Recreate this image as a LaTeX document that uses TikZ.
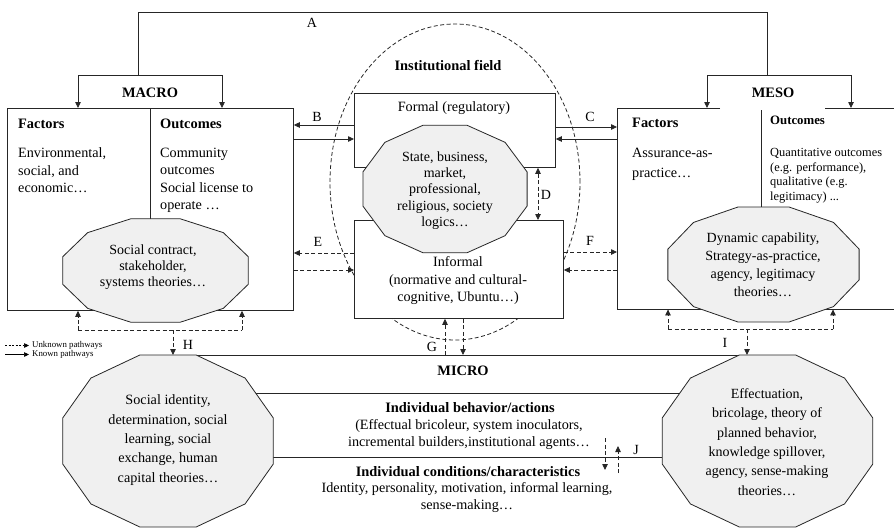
\documentclass[tikz,border=0pt]{standalone}
\usepackage{fontspec}
\setmainfont{Liberation Serif}
\usetikzlibrary{arrows.meta,calc,shapes.geometric}
\tikzset{
 ln/.style={draw=black!85, line width=0.8pt},
 box/.style={ln, fill=white, inner sep=0pt, anchor=north west},
 theory/.style={ln, fill=black!6},
 tip/.style={-{Triangle[length=6pt,width=5.5pt]}},
 arr/.style={ln, tip},
 dln/.style={ln, dash pattern=on 4pt off 2.5pt},
 darr/.style={dln, tip},
 txt/.style={inner sep=0pt, font=\fontsize{14.2}{17.5}\selectfont},
 btxt/.style={inner sep=0pt, font=\fontsize{14.4}{16}\selectfont\bfseries},
 lab/.style={inner sep=0pt, font=\fontsize{14}{15}\selectfont},
 legtxt/.style={inner sep=0pt, anchor=west, font=\fontsize{8.8}{9}\selectfont},
}
\newcommand\dodeca[4]{\draw[theory] plot[samples at={15,45,...,345}] ({#1+#3*cos(\x)},{#2+#4*sin(\x)}) -- cycle;}
\begin{document}
\begin{tikzpicture}[x=1pt,y=-1pt]
\useasboundingbox (0,0) rectangle (894,528);

% institutional field
\node[dln, ellipse, minimum width=250pt, minimum height=316pt, inner sep=0pt] (field) at (455,182) {};
\node[btxt] (fieldlab) at (448,66) {Institutional field};

% boxes
\node[box, minimum width=286pt, minimum height=202pt] (macro) at (7,108) {};
\node[box, minimum width=201pt, minimum height=74pt] (formal) at (354,93) {};
\node[box, minimum width=209pt, minimum height=98pt] (informal) at (354,220) {};
\node[inner sep=0pt, minimum width=277pt, minimum height=201pt, anchor=north west] (meso) at (617,108) {};
\draw[ln] ($(meso.north west)+(103,0)$) -- (meso.north west) -- (meso.south west) -- (meso.south east);
\draw[ln] ($(meso.north west)+(208,0)$) -- (meso.north east);
\draw[ln] ($(macro.north west)+(143,0)$) -- ++(0,111);
\draw[ln] ($(meso.north west)+(144,2)$) -- ++(0,98);

% top connector A and brackets
\coordinate (ma) at (138,75);
\coordinate (me) at (767,75);
\draw[ln] (ma) -- (138,12) -- (767,12) -- (me);
\node[lab] (labA) at (312,23) {A};
\draw[arr] (ma) -- (78,75) -- ($(macro.north west)+(71,0)$);
\draw[arr] (ma) -- (222,75) -- ($(macro.north west)+(215,0)$);
\draw[arr] (me) -- (707,75) -- ($(meso.north west)+(90,0)$);
\draw[arr] (me) -- (851,75) -- ($(meso.north west)+(234,0)$);
\node[btxt] (macrolab) at (150,93) {MACRO};
\node[btxt] (mesolab) at (773,93) {MESO};

% macro texts
\node[btxt, anchor=west] (mf) at (18,124) {Factors};
\node[btxt, anchor=west] (mo) at (160,124) {Outcomes};
\node[txt, align=left, anchor=north west] (mft) at (18,147.5) {Environmental,\\social, and\\economic…};
\node[txt, align=left, anchor=north west] (mot) at (160,147.5) {Community\\outcomes\\Social license to\\operate …};

% meso texts
\node[btxt, anchor=west] (sf) at (632,123) {Factors};
\node[inner sep=0pt, font=\fontsize{12.8}{14}\selectfont\bfseries, anchor=west] (so) at (770,120) {Outcomes};
\node[txt, align=left, anchor=north west, font=\fontsize{14.2}{20}\selectfont] (sft) at (632,147.5) {Assurance-as-\\practice…};
\node[inner sep=0pt, align=left, anchor=north west, font=\fontsize{12.4}{14.7}\selectfont] (sot) at (770,148) {Quantitative outcomes\\(e.g. performance),\\qualitative (e.g.\\legitimacy) ...};

% formal / informal texts
\node[txt] (formallab) at (454,108) {Formal (regulatory)};
\node[txt, align=center] (informallab) at (458,281) {Informal\\(normative and cultural-\\cognitive, Ubuntu…)};

% theory polygons (upper)
\dodeca{155.5}{270.5}{96}{53.5}
\node[txt, align=center, font=\fontsize{14}{16}\selectfont] (thL) at (153,267) {Social contract,\\stakeholder,\\systems theories…};
\dodeca{445}{189}{85}{66}
\node[txt, align=center, font=\fontsize{14}{16.3}\selectfont] (thM) at (445,190.5) {State, business,\\market,\\professional,\\religious, society\\logics…};
\dodeca{763.5}{264.5}{99}{59.5}
\node[txt, align=center, font=\fontsize{14}{18}\selectfont] (thR) at (763,265) {Dynamic capability,\\Strategy-as-practice,\\agency, legitimacy\\theories…};

% B, C
\coordinate (yB1) at (0,125); \coordinate (yB2) at (0,139);
\coordinate (yC1) at (0,127); \coordinate (yC2) at (0,139);
\draw[arr] (formal.west |- yB1) -- (macro.east |- yB1);
\draw[arr] (macro.east |- yB2) -- (formal.west |- yB2);
\draw[arr] (formal.east |- yC1) -- (meso.west |- yC1);
\draw[arr] (meso.west |- yC2) -- (formal.east |- yC2);
\node[lab] (labB) at (317,117) {B};
\node[lab] (labC) at (590,117) {C};

% E, F
\coordinate (yE1) at (0,253); \coordinate (yE2) at (0,270);
\coordinate (yF1) at (0,252); \coordinate (yF2) at (0,270);
\draw[darr] (informal.west |- yE1) -- (macro.east |- yE1);
\draw[darr] (macro.east |- yE2) -- (informal.west |- yE2);
\draw[darr] (informal.east |- yF1) -- (meso.west |- yF1);
\draw[darr] (meso.west |- yF2) -- (informal.east |- yF2);
\node[lab] (labE) at (318,242) {E};
\node[lab] (labF) at (590,241) {F};

% D
\coordinate (xD) at (538,0);
\draw[dln, {Triangle[length=6pt,width=5.5pt]}-{Triangle[length=6pt,width=5.5pt]}] (formal.south -| xD) -- (informal.north -| xD);
\node[lab] (labD) at (546,195) {D};

% MICRO band
\coordinate (microTop) at (463,355);
\draw[ln] (168,355) -- (767,355);
\draw[ln] (168,393) -- (767,393);
\draw[ln] (168,457) -- (767,457);
\dodeca{168}{441}{109}{89}
\node[txt, align=center, font=\fontsize{14.2}{19.3}\selectfont] (thBL) at (168,440) {Social identity,\\determination, social\\learning, social\\exchange, human\\capital theories…};
\dodeca{767.5}{441}{109}{89}
\node[txt, align=center, font=\fontsize{14}{19.4}\selectfont] (thBR) at (767,442) {Effectuation,\\bricolage, theory of\\planned behavior,\\knowledge spillover,\\agency, sense-making\\theories…};

\node[btxt] (micro) at (463,371) {MICRO};
\node[btxt] (beh) at (470,408) {Individual behavior/actions};
\node[txt, align=center, font=\fontsize{14.2}{17}\selectfont] (behtxt) at (469,434.5) {(Effectual bricoleur, system inoculators,\\incremental builders,institutional agents…};
\node[btxt] (cond) at (468,472) {Individual conditions/characteristics};
\node[txt, align=center, font=\fontsize{14.2}{17}\selectfont] (condtxt) at (467,497.5) {Identity, personality, motivation, informal learning,\\sense-making…};

% G
\coordinate (xG1) at (445,0); \coordinate (xG2) at (463,0);
\draw[darr] (microTop -| xG1) -- (informal.south -| xG1);
\draw[darr] (informal.south -| xG2) -- (microTop -| xG2);
\node[lab] (labG) at (432,347) {G};

% H
\coordinate (hL) at (78,330); \coordinate (hR) at (242,330); \coordinate (hM) at (173,330);
\draw[dln] (hL) -- (hR);
\draw[darr] (hL) -- (macro.south -| hL);
\draw[darr] (hR) -- (macro.south -| hR);
\draw[darr] (hM) -- (microTop -| hM);
\node[lab] (labH) at (188,345) {H};

% I
\coordinate (iL) at (668,329); \coordinate (iR) at (833,329); \coordinate (iM) at (747,329);
\draw[dln] (iL) -- (iR);
\draw[darr] (iL) -- (meso.south -| iL);
\draw[darr] (iR) -- (meso.south -| iR);
\draw[darr] (iM) -- (microTop -| iM);
\node[lab] (labI) at (725,343) {I};

% J
\coordinate (j1) at (605,438); \coordinate (j2) at (605,470);
\coordinate (j3) at (618,473); \coordinate (j4) at (618,446);
\draw[darr] (j1) -- (j2);
\draw[darr] (j3) -- (j4);
\node[lab] (labJ) at (636,450) {J};

% legend
\coordinate (lg1) at (5,345.5); \coordinate (lg2) at (29,345.5);
\coordinate (lg3) at (5,354.5); \coordinate (lg4) at (29,354.5);
\draw[line width=0.6pt, dash pattern=on 2pt off 1.5pt, -{Triangle[length=5pt,width=4.5pt]}] (lg1) -- (lg2);
\draw[line width=0.6pt, -{Triangle[length=5pt,width=4.5pt]}] (lg3) -- (lg4);
\node[legtxt] (lgU) at (32,345) {Unknown pathways};
\node[legtxt] (lgK) at (32,354.5) {Known pathways};
\end{tikzpicture}
\end{document}
